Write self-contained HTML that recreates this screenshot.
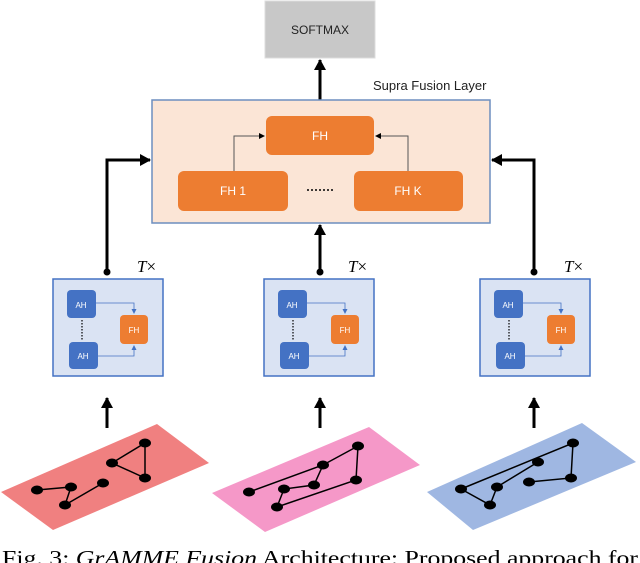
<!DOCTYPE html>
<html><head><style>
body{margin:0;width:640px;height:563px;overflow:hidden;background:#fff;}
svg{display:block}
</style></head><body>
<svg width="640" height="563" viewBox="0 0 640 563" xmlns="http://www.w3.org/2000/svg">
<defs>
<marker id="a" markerWidth="6" markerHeight="6" refX="5" refY="3" orient="auto" markerUnits="userSpaceOnUse"><path d="M0,0L6,3L0,6z" fill="#000"/></marker>
<marker id="b" markerWidth="12" markerHeight="12" refX="10" refY="6" orient="auto" markerUnits="userSpaceOnUse"><path d="M0,0L11,6L0,12z" fill="#000"/></marker>
<marker id="s" markerWidth="5" markerHeight="5" refX="4" refY="2.5" orient="auto" markerUnits="userSpaceOnUse"><path d="M0,0L5,2.5L0,5z" fill="#4472c4"/></marker>
</defs>
<g font-family="Liberation Sans, sans-serif">
<rect x="265" y="1" width="110" height="57" fill="#c8c8c8" stroke="#ddd"/>
<text x="320" y="34" font-size="12" text-anchor="middle" fill="#222">SOFTMAX</text>
<line x1="320" y1="100" x2="320" y2="60" stroke="#000" stroke-width="3" marker-end="url(#b)"/>
<text x="373" y="90" font-size="13" fill="#222">Supra Fusion Layer</text>
<rect x="152" y="100" width="338" height="123" fill="#fbe5d6" stroke="#6d8ebf" stroke-width="1.5"/>
<rect x="266" y="116" width="108" height="39" rx="6" fill="#ed7d31"/>
<text x="320" y="140" font-size="12" fill="#fff" text-anchor="middle">FH</text>
<rect x="178" y="171" width="110" height="40" rx="6" fill="#ed7d31"/>
<text x="233" y="195" font-size="12" fill="#fff" text-anchor="middle">FH 1</text>
<rect x="354" y="171" width="109" height="40" rx="6" fill="#ed7d31"/>
<text x="408" y="195" font-size="12" fill="#fff" text-anchor="middle">FH K</text>
<line x1="307" y1="190" x2="335" y2="190" stroke="#000" stroke-width="1.5" stroke-dasharray="2,2"/>
<polyline points="234,171 234,136 264,136" fill="none" stroke="#555" marker-end="url(#a)"/>
<polyline points="408,171 408,136 376,136" fill="none" stroke="#555" marker-end="url(#a)"/>
<polyline points="107,271 107,160 150,160" fill="none" stroke="#000" stroke-width="3" marker-end="url(#b)"/>
<polyline points="534,271 534,160 492,160" fill="none" stroke="#000" stroke-width="3" marker-end="url(#b)"/>
<line x1="320" y1="271" x2="320" y2="225" stroke="#000" stroke-width="3" marker-end="url(#b)"/>
<circle cx="107" cy="272" r="3.5"/><circle cx="320" cy="272" r="3.5"/><circle cx="534" cy="272" r="3.5"/>
</g>
<g font-family="Liberation Sans, sans-serif">
<g id="blk">
<rect x="53" y="279" width="110" height="97" fill="#dae3f3" stroke="#4472c4" stroke-width="1.5"/>
<rect x="67" y="290" width="29" height="28" rx="4" fill="#4472c4"/>
<text x="81" y="308" font-size="8" fill="#fff" text-anchor="middle">AH</text>
<rect x="69" y="342" width="29" height="27" rx="4" fill="#4472c4"/>
<text x="83" y="359" font-size="8" fill="#fff" text-anchor="middle">AH</text>
<rect x="120" y="315" width="28" height="29" rx="4" fill="#ed7d31"/>
<text x="134" y="333" font-size="8" fill="#fff" text-anchor="middle">FH</text>
<line x1="82" y1="320" x2="82" y2="340" stroke="#000" stroke-width="1.2" stroke-dasharray="1.5,1.5"/>
<polyline points="96,303 134,303 134,313" fill="none" stroke="#4472c4" stroke-width="0.8" marker-end="url(#s)"/>
<polyline points="98,356 134,356 134,346" fill="none" stroke="#4472c4" stroke-width="0.8" marker-end="url(#s)"/>
</g>
<use href="#blk" x="211"/>
<use href="#blk" x="427"/>
</g>
<g font-family="Liberation Serif, serif" font-style="italic" font-size="17">
<text x="137" y="272">T<tspan font-style="normal">×</tspan></text>
<text x="348" y="272">T<tspan font-style="normal">×</tspan></text>
<text x="564" y="272">T<tspan font-style="normal">×</tspan></text>
</g>
<g stroke="#000" stroke-width="3">
<line x1="107" y1="428" x2="107" y2="398" marker-end="url(#b)"/>
<line x1="320" y1="428" x2="320" y2="398" marker-end="url(#b)"/>
<line x1="534" y1="428" x2="534" y2="398" marker-end="url(#b)"/>
</g>
<polygon points="1,492 157,424 209,463 53,530" fill="#f08080"/>
<polygon points="212,493 369,427 420,465 265,532" fill="#f598c8"/>
<polygon points="427,492 582,423 636,462 473,530" fill="#9fb7e2"/>
<g stroke="#000" stroke-width="1.5" fill="none">
<polyline points="37,490 71,487 65,505 103,483"/>
<polygon points="112,463 145,443 145,478"/>
<polyline points="249,492 323,465 358,446 356,480 277,507 284,489 314,485 323,465"/>
<polyline points="461,489 573,443 571,478 529,482"/>
<polyline points="538,462 497,487 490,505 461,489"/>
</g>
<g fill="#000">
<ellipse cx="37" cy="490" rx="6" ry="4.5"/><ellipse cx="71" cy="487" rx="6" ry="4.5"/><ellipse cx="65" cy="505" rx="6" ry="4.5"/><ellipse cx="103" cy="483" rx="6" ry="4.5"/><ellipse cx="112" cy="463" rx="6" ry="4.5"/><ellipse cx="145" cy="443" rx="6" ry="4.5"/><ellipse cx="145" cy="478" rx="6" ry="4.5"/>
<ellipse cx="249" cy="492" rx="6" ry="4.5"/><ellipse cx="284" cy="489" rx="6" ry="4.5"/><ellipse cx="277" cy="507" rx="6" ry="4.5"/><ellipse cx="314" cy="485" rx="6" ry="4.5"/><ellipse cx="323" cy="465" rx="6" ry="4.5"/><ellipse cx="358" cy="446" rx="6" ry="4.5"/><ellipse cx="356" cy="480" rx="6" ry="4.5"/>
<ellipse cx="461" cy="489" rx="6" ry="4.5"/><ellipse cx="497" cy="487" rx="6" ry="4.5"/><ellipse cx="490" cy="505" rx="6" ry="4.5"/><ellipse cx="538" cy="462" rx="6" ry="4.5"/><ellipse cx="573" cy="443" rx="6" ry="4.5"/><ellipse cx="571" cy="478" rx="6" ry="4.5"/><ellipse cx="529" cy="482" rx="6" ry="4.5"/>
</g>
<text x="2" y="565" font-family="Liberation Serif, serif" font-size="21" fill="#000" textLength="636" lengthAdjust="spacingAndGlyphs">Fig. 3: <tspan font-style="italic">GrAMME Fusion</tspan> Architecture: Proposed approach for</text>
</svg>
</body></html>
